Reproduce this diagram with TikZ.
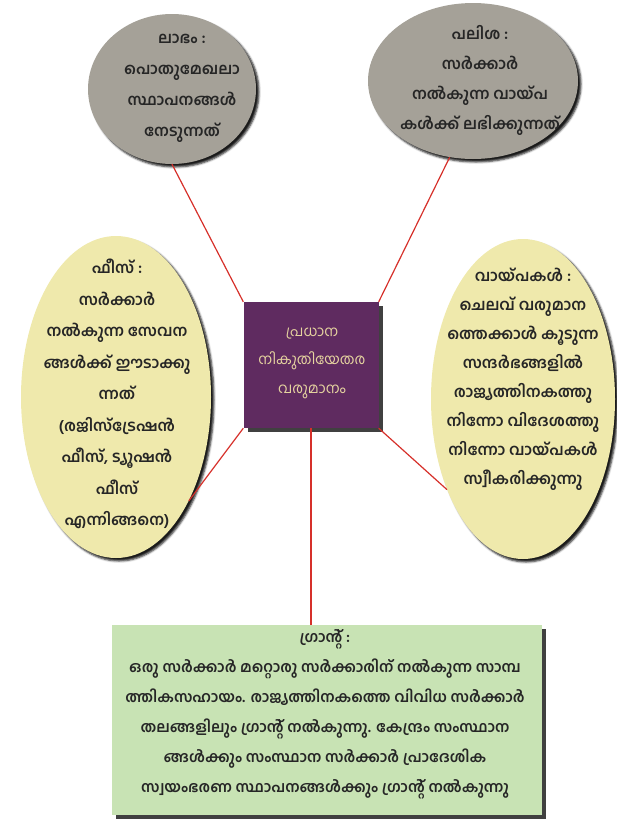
\documentclass[tikz,border=0pt]{standalone}
\usepackage{fontspec}
\usepackage{tikz}
\usetikzlibrary{shapes.geometric,shadows,shadows.blur}
\newfontfamily\mlfont[Script=Malayalam]{Hind Kochi}

\definecolor{ovalgrey}{RGB}{165,161,152}
\definecolor{ovalyellow}{RGB}{239,233,172}
\definecolor{boxpurple}{RGB}{95,43,96}
\definecolor{boxgreen}{RGB}{200,227,180}
\definecolor{linkred}{RGB}{214,48,42}
\definecolor{goldtext}{RGB}{230,212,160}

\begin{document}
\begin{tikzpicture}[x=1pt,y=-1pt,
    oval/.style={ellipse,inner sep=0pt,blur shadow={shadow xshift=3pt,shadow yshift=-3pt,shadow blur radius=2pt,shadow opacity=90}},
    grey node/.style={oval,fill=ovalgrey},
    yellow node/.style={oval,fill=ovalyellow},
    box node/.style={rectangle,inner sep=0pt,drop shadow={shadow xshift=4pt,shadow yshift=-4pt,fill=black!75,opacity=1}},
    note/.style={align=center,text=black!85,font=\mlfont\bfseries\fontsize{15.5}{#1}\selectfont},
    note/.default=30]

  \useasboundingbox (0,0) rectangle (617,825);

  % ovals and boxes
  \node[grey node,minimum width=168pt,minimum height=150pt] (profit) at (172,89) {};
  \node[grey node,minimum width=210pt,minimum height=156pt] (interest) at (473,81) {};
  \node[yellow node,minimum width=190pt,minimum height=322pt] (fee) at (116,397) {};
  \node[yellow node,minimum width=184pt,minimum height=320pt] (loan) at (523,399) {};
  \node[box node,fill=boxpurple,minimum width=135pt,minimum height=126pt] (main) at (311,365) {};
  \node[box node,fill=boxgreen,minimum width=430pt,minimum height=190pt] (grant) at (327,720) {};

  % texts
  \node[note=31] (profit text) at (182,88) {ലാഭം :\\പൊതുമേഖലാ\\സ്ഥാപനങ്ങൾ\\നേടുന്നത്};
  \node[note] (interest text) at (480,80) {പലിശ :\\സർക്കാർ\\നൽകുന്ന വായ്പ\\കൾക്ക് ലഭിക്കുന്നത്};
  \node[note=31.5] (fee text) at (117,394) {ഫീസ് :\\സർക്കാർ\\നൽകുന്ന സേവന\\ങ്ങൾക്ക് ഈടാക്കു\\ന്നത്\\(രജിസ്ട്രേഷൻ\\ഫീസ്, ട്യൂഷൻ\\ഫീസ്\\എന്നിങ്ങനെ)};
  \node[note=29] (loan text) at (523,379) {വായ്പകൾ :\\ചെലവ് വരുമാന\\ത്തെക്കാൾ കൂടുന്ന\\സന്ദർഭങ്ങളിൽ\\രാജ്യത്തിനകത്തു\\നിന്നോ വിദേശത്തു\\നിന്നോ വായ്പകൾ\\സ്വീകരിക്കുന്നു};
  \node[align=center,text=goldtext,font=\mlfont\fontsize{14.5}{28.5}\selectfont] (main text) at (312,363) {പ്രധാന\\നികുതിയേതര\\വരുമാനം};
  \node[note,font=\mlfont\bfseries\fontsize{15}{30}\selectfont] (grant text) at (325,714) {ഗ്രാന്റ് :\\ഒരു സർക്കാർ മറ്റൊരു സർക്കാരിന് നൽകുന്ന സാമ്പ\\ത്തികസഹായം. രാജ്യത്തിനകത്തെ വിവിധ സർക്കാർ\\തലങ്ങളിലും ഗ്രാന്റ് നൽകുന്നു. കേന്ദ്രം സംസ്ഥാന\\ങ്ങൾക്കും സംസ്ഥാന സർക്കാർ പ്രാദേശിക\\സ്വയംഭരണ സ്ഥാപനങ്ങൾക്കും ഗ്രാന്റ് നൽകുന്നു};

  \path[color=linkred,line width=1.2pt]
    (main.north west) edge (profit.south)
    (main.north east) edge (interest.-107)
    (main.south west) edge (fee.-55)
    (main.south east) edge (loan.-130)
    (main.south) edge (main.south |- grant.north);
\end{tikzpicture}
\end{document}
